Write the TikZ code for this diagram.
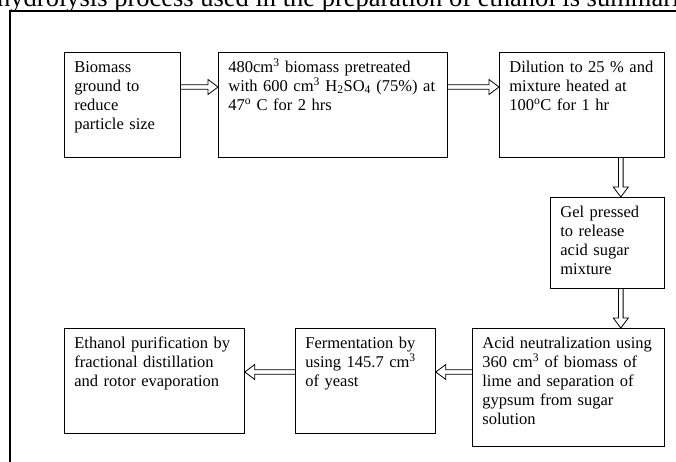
\documentclass[tikz,border=0pt]{standalone}
\usepackage{fontspec}
\setmainfont{Liberation Serif}
\usetikzlibrary{calc}
\tikzset{
  stage/.style={draw, line width=0.8pt, anchor=north west, align=left,
    inner xsep=10pt, inner ysep=8pt, text height=12pt,
    font=\fontsize{16.5}{19}\selectfont},
  hollow/.style={line width=0.8pt, to path={
    let \p1=($(\tikztotarget)!10pt!(\tikztostart)$) in
    ($(\tikztostart)!2.3pt!90:(\tikztotarget)$)
    -- ($(\p1)!2.3pt!-90:(\tikztostart)$)
    -- ($(\p1)!7.5pt!-90:(\tikztostart)$)
    -- (\tikztotarget)
    -- ($(\p1)!7.5pt!90:(\tikztostart)$)
    -- ($(\p1)!2.3pt!90:(\tikztostart)$)
    -- ($(\tikztostart)!2.3pt!-90:(\tikztotarget)$)}}
}
\begin{document}
\begin{tikzpicture}[x=1pt,y=-1pt]
\useasboundingbox (0,0) rectangle (676,462);
\node[anchor=base west, inner sep=0pt, font=\fontsize{26.5}{30}\selectfont] (title) at (-3,7) {hydrolysis process used in the preparation of ethanol is summarized};
\draw[line width=2.2pt] (10,475) -- (10,11) -- (690,11);

\node[stage, text width=96pt, text depth=77pt] (grind) at (64,52) {Biomass\\ground to\\reduce\\particle size};
\node[stage, text width=209pt, text depth=77pt] (pretreat) at (218,52) {480cm\textsuperscript{3} biomass pretreated\\with 600 cm\textsuperscript{3} H\textsubscript{2}SO\textsubscript{4} (75\%) at\\47\textsuperscript{o} C for 2 hrs};
\node[stage, text width=145pt, text depth=77pt] (dilute) at (499,52) {Dilution to 25 \% and\\mixture heated at\\100\textsuperscript{o}C for 1 hr};
\node[stage, text width=94pt, text depth=63pt] (gel) at (550,197) {Gel pressed\\to release\\acid sugar\\mixture};
\node[stage, text width=172pt, text depth=90pt] (neutral) at (472,328) {Acid neutralization using\\360 cm\textsuperscript{3} of biomass of\\lime and separation of\\gypsum from sugar\\solution};
\node[stage, text width=120pt, text depth=77pt] (ferment) at (295,328) {Fermentation by\\using 145.7 cm\textsuperscript{3}\\of yeast};
\node[stage, text width=160pt, text depth=77pt] (purify) at (64,328) {Ethanol purification by\\fractional distillation\\and rotor evaporation};

\draw[hollow] ([yshift=-35pt]grind.north east) to ([yshift=-35pt]pretreat.north west);
\draw[hollow] ([yshift=-35pt]pretreat.north east) to ([yshift=-35pt]dilute.north west);
\draw[hollow] ([xshift=-44pt]dilute.south east) to ([xshift=-44pt]gel.north east);
\draw[hollow] ([xshift=-44pt]gel.south east) to ([xshift=-44pt]neutral.north east);
\draw[hollow] ([yshift=-44pt]neutral.north west) to ([yshift=-44pt]ferment.north east);
\draw[hollow] ([yshift=-44pt]ferment.north west) to ([yshift=-44pt]purify.north east);
\end{tikzpicture}
\end{document}
